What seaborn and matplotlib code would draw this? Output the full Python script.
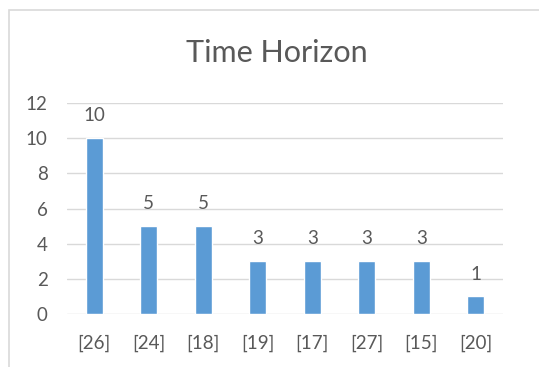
import matplotlib
matplotlib.use("Agg")
import matplotlib.pyplot as plt
import seaborn as sns
import pandas as pd
from matplotlib.patches import Rectangle

categories = ["[26]", "[24]", "[18]", "[19]", "[17]", "[27]", "[15]", "[20]"]
counts = [10, 5, 5, 3, 3, 3, 3, 1]
y_ticks = [0, 2, 4, 6, 8, 10, 12]
title = "Time Horizon"

bar_color = "#5B9BD5"
text_color = "#595959"
grid_color = "#D9D9D9"

sns.set_theme(style="white")
plt.rcParams["font.family"] = ["Lato", "DejaVu Sans"]

df = pd.DataFrame({"category": categories, "count": counts})

fig = plt.figure(figsize=(5.39, 3.67), dpi=100)
ax = fig.add_axes([67 / 539, 1 - 314 / 367, 436 / 539, 211 / 367])

sns.barplot(data=df, x="category", y="count", color=bar_color,
            width=0.31, saturation=1, ax=ax, zorder=3)

ax.set_ylim(0, 12)
ax.set_yticks(y_ticks)
ax.set_xlim(-0.5, len(categories) - 0.5)
ax.set_xlabel("")
ax.set_ylabel("")
ax.grid(axis="y", color=grid_color, linewidth=1, zorder=0)
ax.set_axisbelow(True)
for side in ["top", "right", "left", "bottom"]:
    ax.spines[side].set_visible(False)
ax.tick_params(axis="both", length=0, labelsize=13.5, colors=text_color)
ax.tick_params(axis="x", pad=15)
ax.tick_params(axis="y", pad=14)

for container in ax.containers:
    ax.bar_label(container, labels=[str(v) for v in counts], padding=10,
                 fontsize=13.5, color=text_color)

fig.text(277 / 539, 1 - 62 / 367, title, ha="center", va="baseline",
         fontsize=22, color=text_color)

# chart frame
fig.patches.append(Rectangle((8.5 / 539, -0.2), 1.2, 1.2 - 9.5 / 367,
                             transform=fig.transFigure, fill=False,
                             edgecolor=grid_color, linewidth=1.2))

fig.savefig("out.png", dpi=100, facecolor="white")
